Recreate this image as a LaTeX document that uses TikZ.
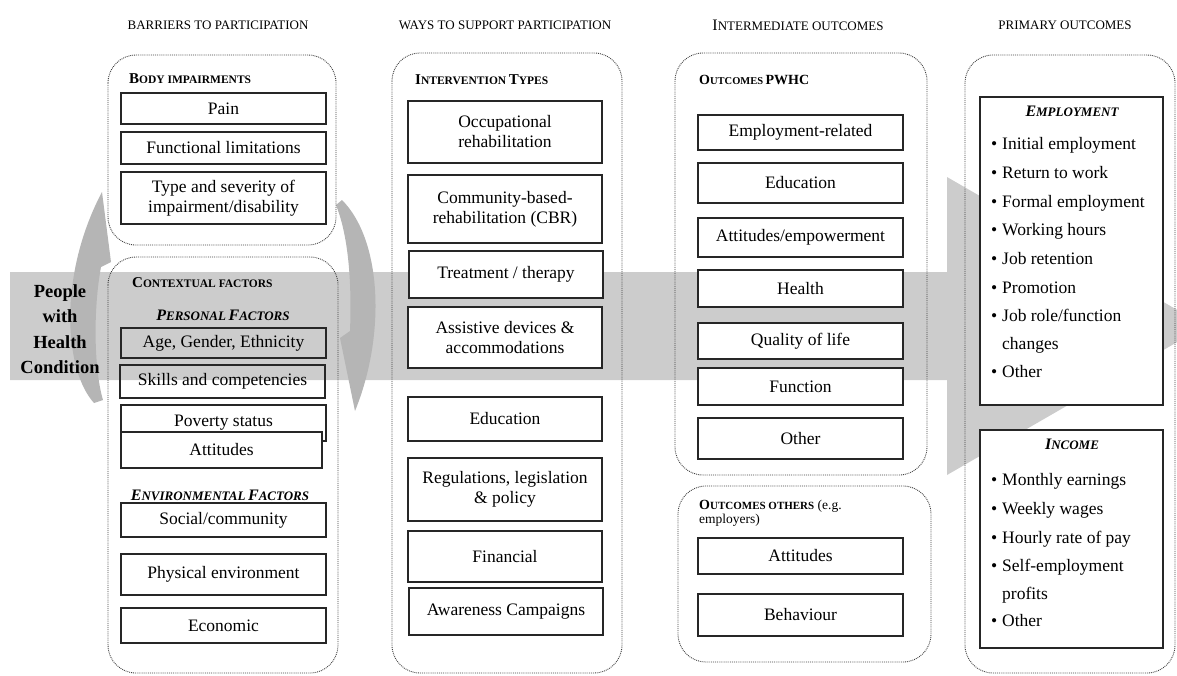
\documentclass[tikz,border=0pt]{standalone}
\usepackage{fontspec}
\setmainfont{Liberation Serif}
\newcommand\boxfont{\fontsize{17.5}{20}\selectfont}
\newcommand\hdrfont{\fontsize{13}{14}\selectfont}
\newcommand\Lcap[2][15]{{\fontsize{#1}{#1}\selectfont #2}}
\newcommand\Scap[2][11.5]{{\fontsize{#1}{#1}\selectfont #2}}
\tikzset{
	band/.style={fill=black!20},
	swirl/.style={fill=black!29},
	grp/.style={draw=black!75, densely dotted, line width=.9pt, rounded corners=28pt},
	bx/.style={draw=black!85, line width=1.1pt, align=center, inner sep=0pt, font=\boxfont},
	wbx/.style={bx, fill=white},
	hdr/.style={font=\hdrfont, inner sep=0pt},
	lbl/.style={font=\bfseries, inner sep=0pt},
	item/.style={anchor=west, font=\boxfont, inner sep=0pt, text height=12pt, text depth=4pt},
}
\begin{document}
\begin{tikzpicture}[x=1pt,y=-1pt]
	\useasboundingbox (0,0) rectangle (1177,675);
	\clip (0,0) rectangle (1177,675);
	
	\fill[band] (10,272) -- (947,272) -- (947,177) -- (1205,326) -- (947,475) -- (947,380) -- (10,380) -- cycle;
	\fill[swirl] (94,403) .. controls (64,370) and (58,275) .. (102,192) -- (111,262) -- (101,267) .. controls (93,310) and (94,370) .. (103,400) -- cycle;
	\fill[swirl] (342,200) .. controls (382,240) and (386,335) .. (355,411) -- (340,338) -- (350,331) .. controls (352,280) and (348,235) .. (336,205) -- cycle;
	\node[font=\bfseries\fontsize{18.5}{25.5}\selectfont, align=center] (people) at (60,329) {People\\with\\Health\\Condition};
	
	\node[hdr] (h1) at (218,25) {BARRIERS TO PARTICIPATION};
	\node[hdr] (h2) at (505,25) {WAYS TO SUPPORT PARTICIPATION};
	\node[hdr] (h3) at (798,25) {\Lcap[16]{I}\Scap[13]{NTERMEDIATE OUTCOMES}};
	\node[hdr] (h4) at (1065,25) {PRIMARY OUTCOMES};
	
	\draw[grp] (108,55) rectangle (336,245);
	\draw[grp] (108,257) rectangle (338,673);
	\draw[grp] (392,53) rectangle (622,673);
	\draw[grp] (675,53) rectangle (927,475);
	\draw[grp] (678,486) rectangle (931,662);
	\draw[grp] (965,55) rectangle (1175,673);
	
	% barriers
	\node[lbl, anchor=west] (body) at (129,79) {\Lcap{B}\Scap{ODY IMPAIRMENTS}};
	\node[bx, minimum width=205, minimum height=31] (pain) at (223.5,108.5) {Pain};
	\node[bx, minimum width=205, minimum height=32] (funct) at (223.5,148) {Functional limitations};
	\node[bx, minimum width=205, minimum height=52] (sever) at (223.5,198) {Type and severity of\\impairment/disability};
	\node[lbl, anchor=west] (context) at (132,283) {\Lcap{C}\Scap{ONTEXTUAL FACTORS}};
	\node[lbl, font=\bfseries\itshape] (pers) at (223,315) {\Lcap[16]{P}\Scap[13]{ERSONAL} \Lcap[16]{F}\Scap[13]{ACTORS}};
	\node[bx, minimum width=205, minimum height=30] (age) at (223.5,343) {Age, Gender, Ethnicity};
	\node[bx, minimum width=205, minimum height=33] (skill) at (222.5,381.5) {Skills and competencies};
	\node[bx, minimum width=205, minimum height=36] (pov) at (223.5,423) {Poverty status};
	\node[wbx, minimum width=201, minimum height=36] (attit) at (221.5,450) {Attitudes};
	\node[lbl, font=\bfseries\itshape] (env) at (220,495) {\Lcap[16]{E}\Scap[13]{NVIRONMENTAL} \Lcap[16]{F}\Scap[13]{ACTORS}};
	\node[bx, minimum width=205, minimum height=34] (soc) at (223.5,520) {Social/community};
	\node[bx, minimum width=205, minimum height=41] (phys) at (223.5,574.5) {Physical environment};
	\node[bx, minimum width=205, minimum height=35] (econ) at (223.5,625.5) {Economic};
	
	% interventions
	\node[lbl, anchor=west] (interv) at (415,80) {\Lcap{I}\Scap{NTERVENTION} \Lcap{T}\Scap{YPES}};
	\node[wbx, minimum width=194, minimum height=62] (occ) at (505,132) {Occupational\\rehabilitation};
	\node[wbx, minimum width=194, minimum height=68] (cbr) at (505,209) {Community-based-\\rehabilitation (CBR)};
	\node[wbx, minimum width=194, minimum height=47] (treat) at (506,274.5) {Treatment / therapy};
	\node[wbx, minimum width=194, minimum height=61] (assist) at (505,337.5) {Assistive devices \&\\accommodations};
	\node[wbx, minimum width=194, minimum height=44] (educ) at (505,419) {Education};
	\node[wbx, minimum width=194, minimum height=63] (regul) at (505,489.5) {Regulations, legislation\\\& policy};
	\node[wbx, minimum width=194, minimum height=51] (fin) at (505,556.5) {Financial};
	\node[wbx, minimum width=194, minimum height=47] (aware) at (506,611.5) {Awareness Campaigns};
	
	% intermediate
	\node[lbl, anchor=west] (pwhc) at (699,80) {\Lcap[14]{O}\Scap[10.5]{UTCOMES} \Lcap[14]{PWHC}};
	\node[wbx, minimum width=205, minimum height=35] (empl) at (800.5,132.5) {Employment-related};
	\node[wbx, minimum width=205, minimum height=40] (edu) at (800.5,183) {Education};
	\node[wbx, minimum width=205, minimum height=39] (empow) at (800.5,237.5) {Attitudes/empowerment};
	\node[wbx, minimum width=205, minimum height=37] (health) at (800.5,288.5) {Health};
	\node[wbx, minimum width=205, minimum height=36] (qol) at (800.5,341) {Quality of life};
	\node[wbx, minimum width=205, minimum height=37] (func) at (800.5,386.5) {Function};
	\node[wbx, minimum width=205, minimum height=41] (other) at (800.5,438.5) {Other};
	\node[anchor=north west, align=left, inner sep=0pt, font=\fontsize{13.5}{14}\selectfont] (others) at (699,500) {{\bfseries\Lcap[14]{O}\Scap[11]{UTCOMES OTHERS}} (e.g.\\employers)};
	\node[wbx, minimum width=205, minimum height=36] (att2) at (800.5,556) {Attitudes};
	\node[wbx, minimum width=205, minimum height=42] (behav) at (800.5,615) {Behaviour};
	
	% primary
	\node[wbx, minimum width=183, minimum height=308] (employ) at (1071.5,251) {};
	\node[wbx, minimum width=183, minimum height=218] (income) at (1071.5,539) {};
	\node[lbl, font=\bfseries\itshape] (emptitle) at (1072,111) {\Lcap[16]{E}\Scap[13]{MPLOYMENT}};
	\node[lbl, font=\bfseries\itshape] (inctitle) at (1072,444) {\Lcap[16]{I}\Scap[13]{NCOME}};
	\foreach \y in {145,174,203,231,260,289,317,373,481,510,539,567,622}
		\node[item] (b\y) at (991,\y) {\textbullet};
	\foreach \y/\t in {145/Initial employment,174/Return to work,203/Formal employment,231/Working hours,260/Job retention,289/Promotion,317/{Job role/function},345/changes,373/Other,481/Monthly earnings,510/Weekly wages,539/Hourly rate of pay,567/Self-employment,595/profits,622/Other}
		\node[item] (t\y) at (1002,\y) {\t};
\end{tikzpicture}
\end{document}
